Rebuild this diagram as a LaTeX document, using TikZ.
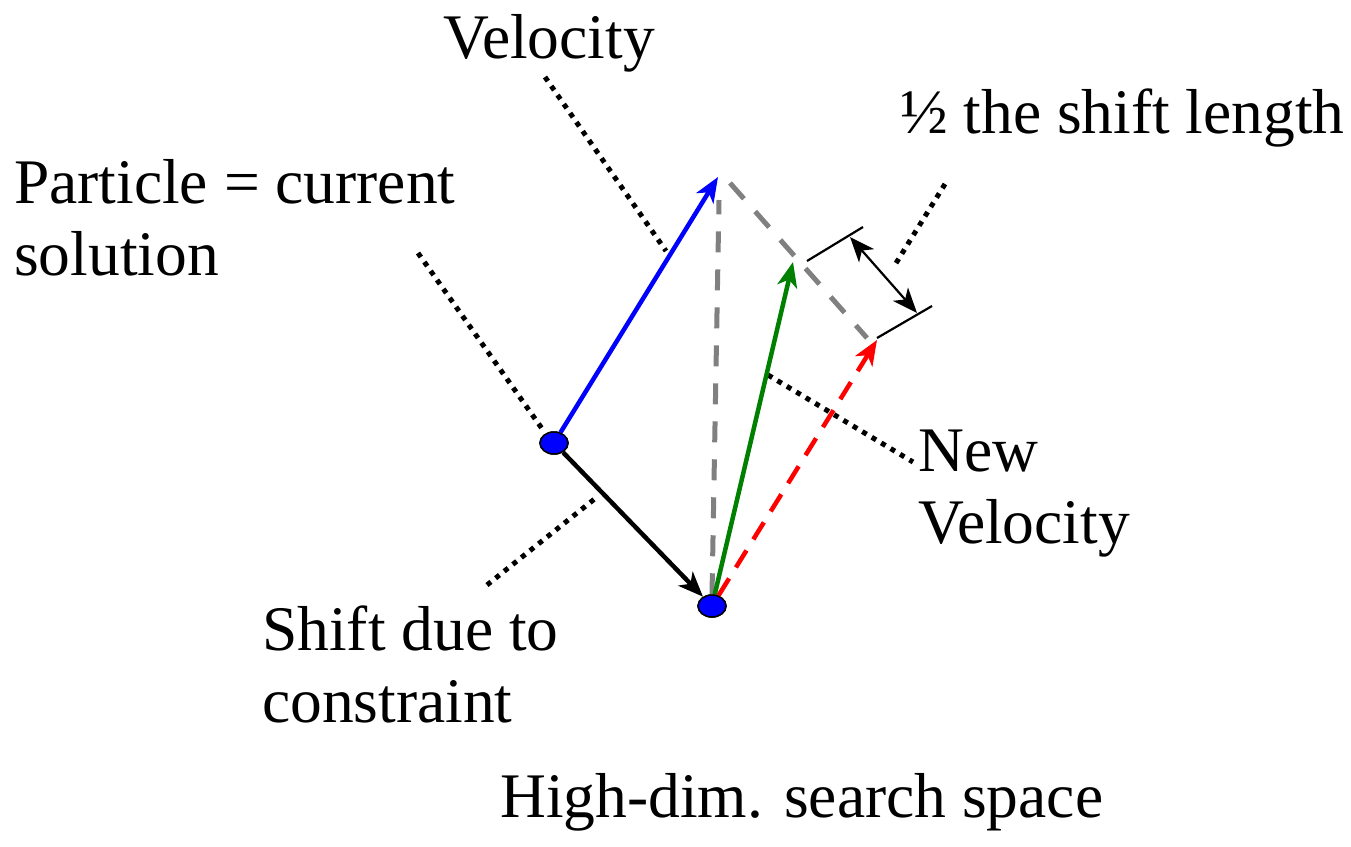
\documentclass[tikz,border=0pt]{standalone}
\usepackage{fontspec}
\setmainfont{Liberation Serif}
\newfontfamily\timesfont{Liberation Serif}
\usetikzlibrary{arrows.meta,shapes.geometric}
\definecolor{dgreen}{RGB}{0,128,0}
\definecolor{guidegray}{RGB}{128,128,128}
\begin{document}
\begin{tikzpicture}[x=1pt,y=-1pt,
  lbl/.style={font=\timesfont\fontsize{63.5}{72}\selectfont, inner sep=0pt, anchor=base west, align=left},
  particle/.style={ellipse, draw=black, line width=1.5pt, fill=blue, minimum width=28pt, minimum height=22pt, inner sep=0pt},
  vec/.style={line width=4.5pt, -{Stealth[length=25pt,width=20pt,inset=7pt]}},
  leader/.style={line width=5pt, dash pattern=on 5pt off 6pt},
  guide/.style={guidegray, line width=5pt, dash pattern=on 21pt off 17pt},
  dimline/.style={line width=2.2pt}
]
\useasboundingbox (0,0) rectangle (1351,846);

% text (multi-line nodes are placed at the baseline of their last line)
\node[lbl] (tvel) at (443,58) {Velocity};
\node[lbl] (tpart) at (14,275) {Particle = current\\solution};
\node[lbl] (thalf) at (900,133) {½ the shift length};
\node[lbl] (tshift) at (262,722) {Shift due to\\constraint};
\node[lbl] (tnew) at (918,543) {New\\Velocity};
\node[lbl] (thigh) at (500,817) {High-dim. search space};

% particles
\node[particle] (p1) at (554,443) {};
\node[particle] (p2) at (712,606) {};

% coordinates
\coordinate (vtip) at (718,177);
\coordinate (ntip) at (793,262);
\coordinate (htip) at (877,340);
\coordinate (gtop) at (719,200);
\coordinate (ga) at (730,183);
\coordinate (gb) at (867,338);
\coordinate (d1a) at (807,261);
\coordinate (d1b) at (863,227);
\coordinate (d2a) at (877,338);
\coordinate (d2b) at (932,306);
\coordinate (da) at (850,237);
\coordinate (db) at (917,313);
\coordinate (lv1) at (545,77);
\coordinate (lv2) at (666,251);
\coordinate (lp1) at (418,253);
\coordinate (lp2) at (543,430);
\coordinate (ls1) at (487,585);
\coordinate (ls2) at (597,497);
\coordinate (ln1) at (768,375);
\coordinate (ln2) at (913,462);
\coordinate (lh1) at (945,184);
\coordinate (lh2) at (893,268);

% leaders
\draw[leader] (lv1) -- (lv2);
\draw[leader] (lp1) -- (lp2);
\draw[leader] (ls1) -- (ls2);
\draw[leader] (ln1) -- (ln2);
\draw[leader] (lh1) -- (lh2);

% guides
\draw[guide] (p2.north) -- (gtop);
\draw[guide] (ga) -- (gb);

% dimension
\draw[dimline] (d1a) -- (d1b);
\draw[dimline] (d2a) -- (d2b);
\draw[dimline, {Stealth[length=25pt,width=20pt,inset=7pt]}-{Stealth[length=25pt,width=20pt,inset=7pt]}] (da) -- (db);

% vectors
\draw[vec, blue] (p1) -- (vtip);
\draw[vec, black] (p1) -- (p2);
\draw[vec, dgreen] (p2) -- (ntip);
\draw[vec, red, dash pattern=on 20pt off 13pt] (p2) -- (htip);

% redraw particles on top
\node[particle] at (p1) {};
\node[particle] at (p2) {};
\end{tikzpicture}
\end{document}
